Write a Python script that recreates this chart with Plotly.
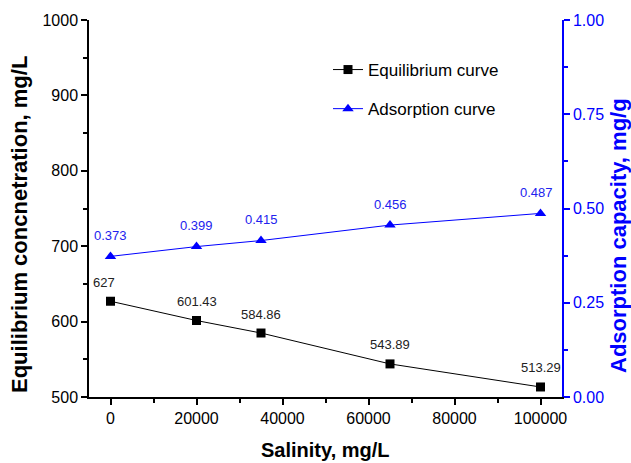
import plotly.graph_objects as go

salinity = [0, 20000, 35000, 65000, 100000]
equilibrium = [627, 601.43, 584.86, 543.89, 513.29]
adsorption = [0.373, 0.399, 0.415, 0.456, 0.487]
eq_labels = ["627", "601.43", "584.86", "543.89", "513.29"]
ads_labels = ["0.373", "0.399", "0.415", "0.456", "0.487"]
x_ticks = [0, 20000, 40000, 60000, 80000, 100000]

BLUE = "#0000FF"
FONT = "Arial, Liberation Sans, sans-serif"

W, H = 631, 463
L, R, T, B = 89, 69, 20, 66
PW, PH = W - L - R, H - T - B


def px(xp):
    return (xp - L) / PW


def py(yp):
    return (H - B - yp) / PH


fig = go.Figure()
fig.add_trace(go.Scatter(
    x=salinity, y=equilibrium, name="Equilibrium curve", mode="lines+markers",
    legendgroup="eq",
    line=dict(color="black", width=1),
    marker=dict(symbol="square", size=9, color="black"),
    yaxis="y"))
fig.add_trace(go.Scatter(
    x=salinity, y=adsorption, name="Adsorption curve", mode="lines+markers",
    legendgroup="ads",
    line=dict(color=BLUE, width=1),
    marker=dict(symbol="triangle-up", size=10, color=BLUE),
    yaxis="y2"))

for xv, yv, t in zip(salinity, equilibrium, eq_labels):
    fig.add_annotation(x=xv, y=yv, text=t, showarrow=False, yref="y", xref="x",
                       yshift=19, xshift=(-7 if xv == 0 else 0),
                       font=dict(family=FONT, size=13, color="#222222"))
for xv, yv, t in zip(salinity, adsorption, ads_labels):
    fig.add_annotation(x=xv, y=yv, text=t, showarrow=False, yref="y2", xref="x",
                       yshift=21, xshift=(-4 if xv == 100000 else 0),
                       font=dict(family=FONT, size=13, color="#2222EE"))

# axis titles
fig.add_annotation(xref="paper", yref="paper", x=px(20), y=py(225), text="<b>Equilibrium concnetration, mg/L</b>",
                   textangle=-90, showarrow=False, xanchor="center", yanchor="middle",
                   font=dict(family=FONT, size=22, color="black"))
fig.add_annotation(xref="paper", yref="paper", x=px(619), y=py(236), text="<b>Adsorption capacity, mg/g</b>",
                   textangle=-90, showarrow=False, xanchor="center", yanchor="middle",
                   font=dict(family=FONT, size=22, color=BLUE))
fig.add_annotation(xref="paper", yref="paper", x=px(325), y=py(450), text="<b>Salinity, mg/L</b>",
                   showarrow=False, xanchor="center", yanchor="middle",
                   font=dict(family=FONT, size=20, color="black"))

fig.update_layout(
    width=W, height=H,
    margin=dict(l=L, r=R, t=T, b=B),
    paper_bgcolor="white", plot_bgcolor="white",
    font=dict(family=FONT, size=16, color="black"),
    showlegend=True,
    legend=dict(x=px(328), y=py(52), xanchor="left", yanchor="top",
                bgcolor="rgba(0,0,0,0)", font=dict(family=FONT, size=17, color="black"),
                itemwidth=30, traceorder="grouped", tracegroupgap=14),
    xaxis=dict(
        range=[-5000, 105000], tickvals=x_ticks,
        ticktext=[str(v) for v in x_ticks],
        showgrid=False, zeroline=False, showline=True, linecolor="black", linewidth=1.5,
        ticks="outside", ticklen=6, tickwidth=1.5, tickcolor="black",
        minor=dict(ticks="outside", ticklen=4, tickwidth=1.5, tickcolor="black", dtick=10000, tick0=0),
        tickfont=dict(family=FONT, size=16, color="black"),
    ),
    yaxis=dict(
        range=[500, 1000], dtick=100, tick0=500,
        showgrid=False, zeroline=False, showline=True, linecolor="black", linewidth=1.5,
        ticks="outside", ticklen=6, tickwidth=1.5, tickcolor="black",
        minor=dict(ticks="outside", ticklen=4, tickwidth=1.5, tickcolor="black", dtick=50, tick0=500),
        tickfont=dict(family=FONT, size=16, color="black"),
    ),
    yaxis2=dict(
        range=[0, 1], dtick=0.25, tick0=0, tickformat=".2f", overlaying="y", side="right",
        showgrid=False, zeroline=False, showline=True, linecolor=BLUE, linewidth=1.5,
        ticks="outside", ticklen=6, tickwidth=1.5, tickcolor=BLUE,
        minor=dict(ticks="outside", ticklen=4, tickwidth=1.5, tickcolor=BLUE, dtick=0.125, tick0=0),
        tickfont=dict(family=FONT, size=16, color=BLUE),
    ),
)

fig.write_html("out.html")
